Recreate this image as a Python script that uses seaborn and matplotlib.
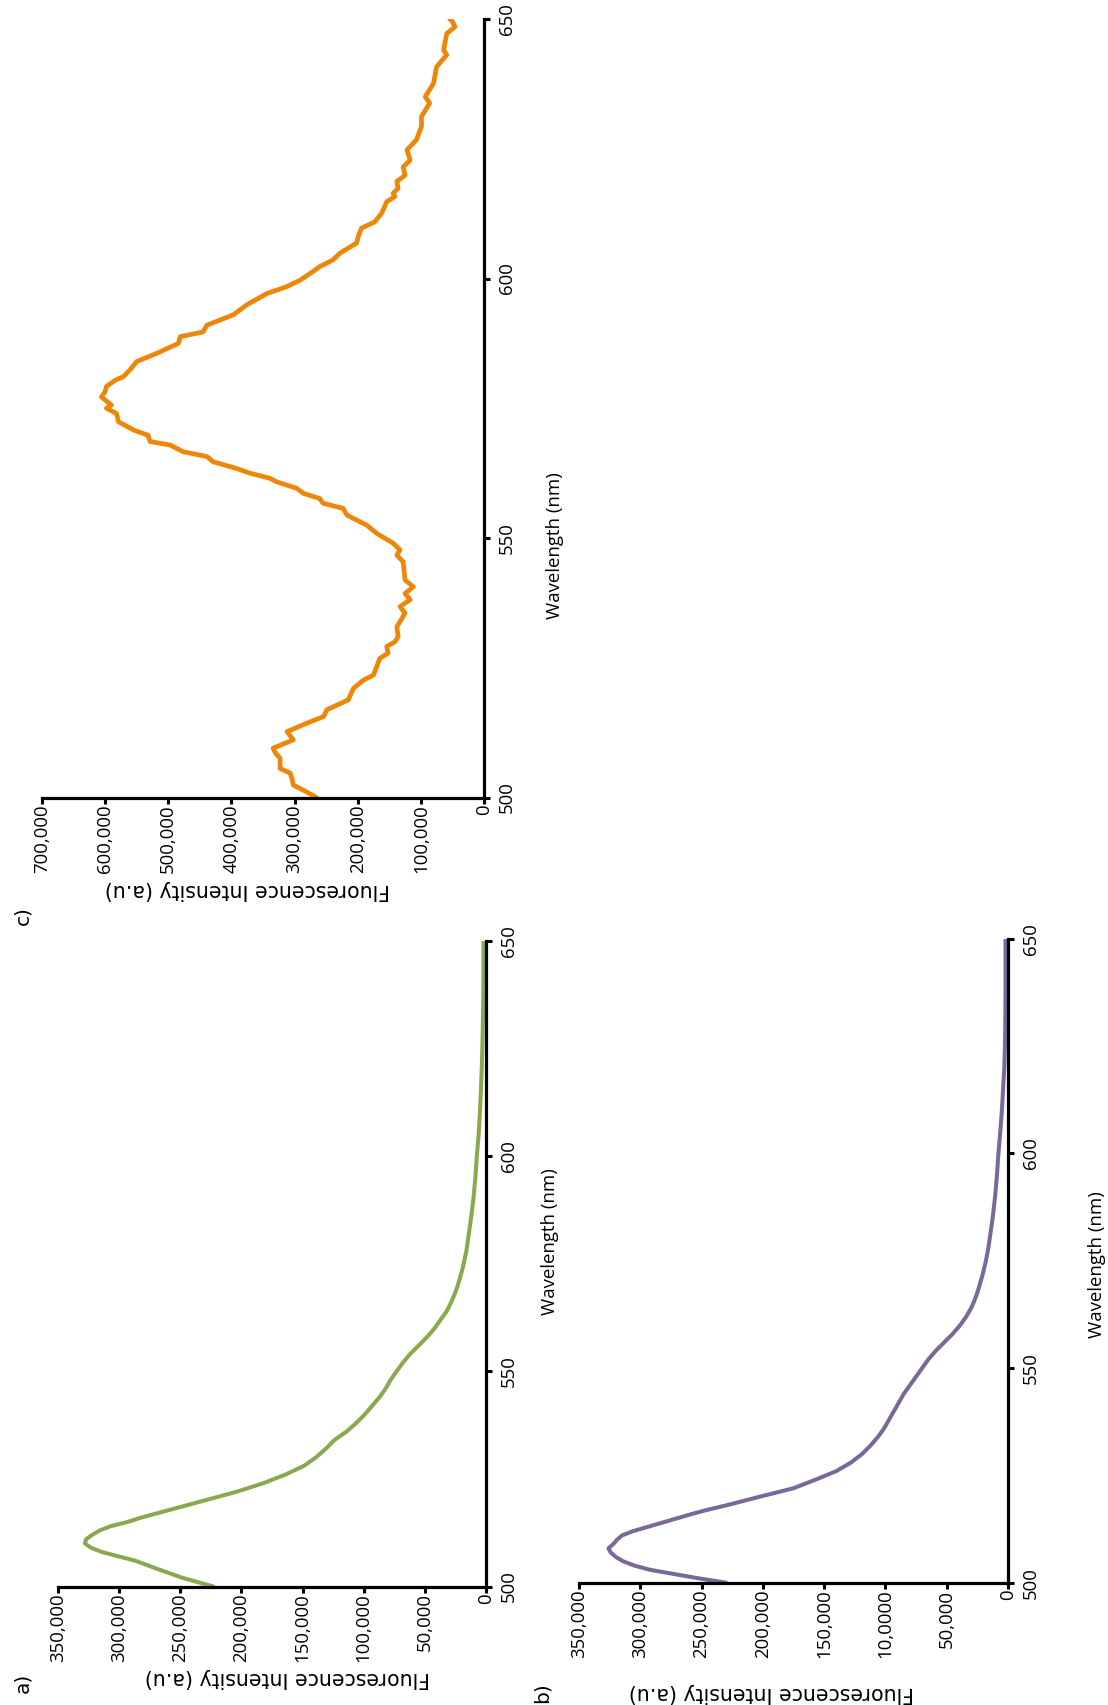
import matplotlib
matplotlib.use("Agg")
import matplotlib.pyplot as plt
import seaborn as sns

# panel a) green spectrum
wl_a = [500, 502, 504, 506, 508, 509, 510, 511, 512, 513, 514, 515, 516, 518, 520,
        522, 524, 526, 528, 530, 532, 534, 536, 538, 540, 542, 544, 546, 548, 550,
        552, 554, 556, 558, 560, 562, 564, 566, 568, 570, 572, 574, 576, 578, 580,
        585, 590, 595, 600, 605, 610, 615, 620, 625, 630, 635, 640, 645, 650]
int_a = [223000, 248000, 268000, 287000, 314000, 323000, 328000, 327000, 322000, 316000,
         307000, 293000, 282000, 256000, 230000, 204000, 182000, 164000, 149000, 139000,
         131000, 124000, 114000, 106000, 99000, 93000, 87000, 82000, 78000, 73000,
         68000, 62000, 55000, 48000, 42000, 37000, 32000, 28500, 25500, 23000,
         21000, 19000, 17500, 16000, 15000, 12500, 10300, 8700, 7500, 6000,
         5000, 4200, 3500, 3000, 2600, 2300, 2100, 2000, 2000]

# panel b) purple spectrum
wl_b = [500, 501, 502, 503, 504, 505, 506, 507, 508, 509, 510, 511, 512, 513, 514, 515,
        516, 517, 518, 520, 522, 524, 526, 528, 530, 532, 534, 536, 538, 540, 542, 544,
        546, 548, 550, 552, 554, 556, 558, 560, 562, 564, 566, 568, 570, 572, 575, 578,
        580, 585, 590, 595, 600, 605, 610, 615, 620, 625, 630, 640, 650]
int_b = [230000, 252000, 272000, 292000, 305000, 314000, 320000, 324000, 326000, 322000,
         319000, 315000, 306000, 294000, 282000, 270000, 258000, 245000, 230000, 203000,
         175000, 157000, 140000, 128000, 119000, 112000, 106000, 101000, 97000, 93000,
         89000, 85000, 80000, 75000, 70000, 65000, 59000, 52000, 45000, 39000,
         34000, 30000, 27000, 24500, 22500, 20500, 18000, 16000, 15000, 12500,
         10500, 9000, 7800, 6300, 5000, 4000, 3000, 2500, 2200, 2000, 2000]

# panel c) orange spectrum (noisy)
wl_c = [500.0, 501.4, 502.4, 503.6, 504.7, 505.6, 507.6, 508.5, 509.5, 510.3, 511.1, 512.7,
        514.3, 515.6, 516.9, 518.8, 521.0, 522.6, 523.6, 526.8, 527.8, 529.1, 530.0, 531.0,
        532.9, 535.5, 536.8, 538.1, 539.3, 540.6, 541.9, 545.4, 546.7, 547.7, 549.0, 550.9,
        552.5, 554.4, 555.7, 556.7, 557.6, 558.6, 559.6, 560.8, 561.5, 562.5, 563.4, 564.7,
        565.7, 566.6, 567.9, 568.6, 569.8, 570.8, 572.4, 574.0, 575.0, 575.6, 577.2, 578.2,
        579.2, 580.4, 581.1, 582.5, 584.0, 585.6, 587.5, 588.8, 589.7, 591.0, 593.0, 594.9,
        597.1, 598.4, 599.7, 601.0, 602.3, 603.6, 604.9, 606.8, 608.5, 609.7, 610.9, 612.6,
        614.8, 615.8, 616.4, 617.4, 618.7, 619.9, 621.5, 622.8, 624.8, 626.7, 629.3, 631.2,
        633.8, 635.0, 637.6, 640.8, 643.1, 644.0, 647.2, 648.5, 649.5, 650.0]
int_c = [265000, 286000, 302000, 304000, 307000, 323000, 323000, 330000, 334000, 318000, 302000, 312000,
         281000, 254000, 249000, 215000, 207000, 191000, 175000, 165000, 152000, 154000, 141000, 136000,
         138000, 125000, 133000, 117000, 125000, 112000, 125000, 128000, 138000, 133000, 144000, 170000,
         186000, 217000, 223000, 255000, 260000, 286000, 297000, 328000, 339000, 371000, 392000, 429000,
         439000, 476000, 497000, 529000, 532000, 555000, 579000, 582000, 598000, 590000, 606000, 600000,
         598000, 584000, 571000, 560000, 550000, 518000, 484000, 481000, 445000, 439000, 397000, 376000,
         344000, 313000, 291000, 275000, 260000, 239000, 228000, 202000, 198000, 194000, 173000, 162000,
         154000, 141000, 144000, 136000, 138000, 125000, 128000, 117000, 122000, 107000, 99000, 99000,
         86000, 93000, 80000, 75000, 59000, 64000, 59000, 46000, 50000, 54000]

wl_ticks = [500, 550, 600, 650]
ticks_ab = [0, 50000, 100000, 150000, 200000, 250000, 300000, 350000]
labels_a = ["0", "50,000", "100,000", "150,000", "200,000", "250,000", "300,000", "350,000"]
labels_b = ["0", "50,000", "10,0000", "150,000", "200,000", "250,000", "300,000", "350,000"]
ticks_c = [0, 100000, 200000, 300000, 400000, 500000, 600000, 700000]
labels_c = ["0", "100,000", "200,000", "300,000", "400,000", "500,000", "600,000", "700,000"]

sns.set_theme(style="white")
plt.rcParams['font.family'] = ['Open Sans', 'DejaVu Sans']

W, H = 1108, 1705
fig = plt.figure(figsize=(W / 100, H / 100), dpi=100)


def panel(l, t, r, b, wl, inten, color, lw, xmax, xticks, xlabels):
    ax = fig.add_axes([l / W, 1 - b / H, (r - l) / W, (b - t) / H])
    sns.lineplot(x=inten, y=wl, color=color, linewidth=lw, sort=False,
                 estimator=None, ax=ax)
    ax.lines[-1].set_solid_joinstyle('round')
    ax.lines[-1].set_solid_capstyle('round')
    ax.set_xlim(xmax, 0)
    ax.set_ylim(500, 650)
    ax.set_facecolor('none')
    ax.grid(False)
    for s in ['left', 'top']:
        ax.spines[s].set_visible(False)
    for s in ['bottom', 'right']:
        ax.spines[s].set_color('black')
        ax.spines[s].set_linewidth(2.3)
    ax.yaxis.tick_right()
    ax.set_yticks(wl_ticks)
    ax.set_xticks(xticks)
    ax.set_xticklabels(xlabels)
    ax.tick_params(axis='both', direction='out', length=4, width=2.2, color='black',
                   labelsize=13.4, labelcolor='black', bottom=True, right=True)
    ax.tick_params(axis='x', labelrotation=90, pad=1)
    ax.tick_params(axis='y', labelrotation=90, pad=6)
    for lab in ax.get_yticklabels():
        lab.set_va('center')
    ax.set_xlabel('')
    ax.set_ylabel('')
    return ax


panel(58, 940.7, 486, 1586.5, wl_a, int_a, '#8AA84E', 2.9, 350000, ticks_ab, labels_a)
panel(579, 938.7, 1008, 1582.7, wl_b, int_b, '#7A6899', 2.9, 350000, ticks_ab, labels_b)
panel(42, 19, 484, 797.5, wl_c, int_c, '#EE8709', 3.4, 700000, ticks_c, labels_c)


def label(x, y, s, rot, size, family):
    fig.text(x / W, 1 - y / H, s, rotation=rot, ha='center', va='center',
             fontsize=size, family=family, color='black')


for x, y in [(287, 1678), (771, 1693), (247, 890)]:
    label(x, y, "Fluorescence Intensity (a.u)", 180, 14.8, 'DejaVu Sans')
for x, y in [(550, 1242), (1097, 1265), (555, 546)]:
    label(x, y, "Wavelength (nm)", 90, 13.4, 'Open Sans')
for x, y, s in [(23, 1683, "a)"), (542, 1693, "b)"), (23, 916, "c)")]:
    label(x, y, s, 90, 14.5, 'DejaVu Sans')

fig.savefig("out.png", dpi=100, facecolor='white')
